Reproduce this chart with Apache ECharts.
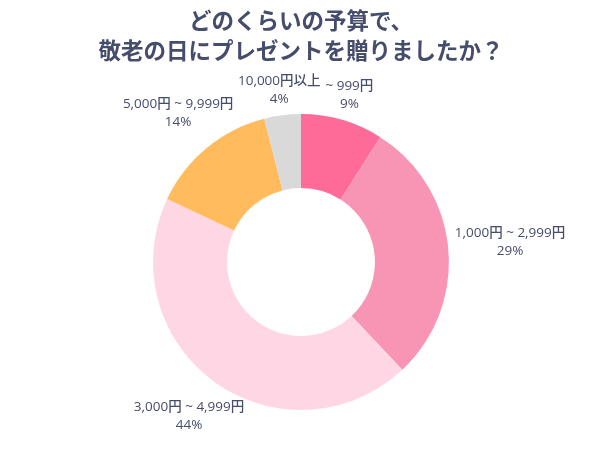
<!DOCTYPE html>
<html>
<head>
<meta charset="utf-8">
<script src="https://cdn.jsdelivr.net/npm/echarts@6/dist/echarts.min.js"></script>
<style>
html, body { margin: 0; padding: 0; background: #fff; }
#main { width: 602px; height: 451px; }
</style>
</head>
<body>
<div id="main"></div>
<script>
var titleText = "どのくらいの予算で、\n敬老の日にプレゼントを贈りましたか？";
var categories = ["~ 999円", "1,000円 ~ 2,999円", "3,000円 ~ 4,999円", "5,000円 ~ 9,999円", "10,000円以上"];
var values = [9, 29, 44, 14, 4];
var colors = ["#FF6B98", "#F895B4", "#FFD6E4", "#FFBB5C", "#D9D9D9"];

var pieCenter = ["50%", "58.1%"];
var pieRadius = ["32.8%", "65.6%"];

function pieShow() {
    var n = echarts.init(document.getElementById("main"));
    var total = 0;
    for (var i = 0; i < values.length; i++) total += values[i];

    var pieData = [];
    for (var i = 0; i < categories.length; i++) {
        pieData.push({ name: categories[i], value: values[i], itemStyle: { color: colors[i] } });
    }

    // ラベルは扇形の中心角方向に、外側へ少し離して置く
    function labelPos(p) {
        var W = n.getWidth(), H = n.getHeight();
        var cx = W * parseFloat(pieCenter[0]) / 100;
        var cy = H * parseFloat(pieCenter[1]) / 100;
        var R = Math.min(W, H) / 2 * parseFloat(pieRadius[1]) / 100 + 7;
        var before = 0;
        for (var j = 0; j < p.dataIndex; j++) before += values[j];
        var mid = (before + values[p.dataIndex] / 2) / total * Math.PI * 2;
        var ux = Math.sin(mid), uy = -Math.cos(mid);
        var w = p.labelRect.width, h = p.labelRect.height;
        var t = Math.sqrt(Math.pow(w / 2 * ux, 2) + Math.pow(h / 2 * uy, 2));
        return { x: cx + ux * (R + t), y: cy + uy * (R + t), align: "center", verticalAlign: "middle" };
    }

    n.setOption({
        backgroundColor: "#fff",
        animation: false,
        title: {
            text: titleText, left: "center", top: 0,
            textStyle: { color: "#464C6C", fontSize: 22.5, fontWeight: "bold", lineHeight: 30, fontFamily: "Noto Sans CJK JP" }
        },
        series: [{
            type: "pie",
            center: pieCenter,
            radius: pieRadius,
            startAngle: 90,
            clockwise: true,
            avoidLabelOverlap: false,
            data: pieData,
            itemStyle: { borderWidth: 0 },
            label: {
                show: true,
                position: "outside",
                formatter: function (p) { return p.name + "\n" + p.value + "%"; },
                color: "#464C6C",
                fontSize: 13.5,
                fontWeight: 500,
                lineHeight: 18,
                fontFamily: "'Open Sans', 'Noto Sans CJK JP'",
                align: "center"
            },
            labelLine: { show: false },
            labelLayout: labelPos,
            emphasis: { disabled: true }
        }]
    });
}
pieShow();
</script>
</body>
</html>
